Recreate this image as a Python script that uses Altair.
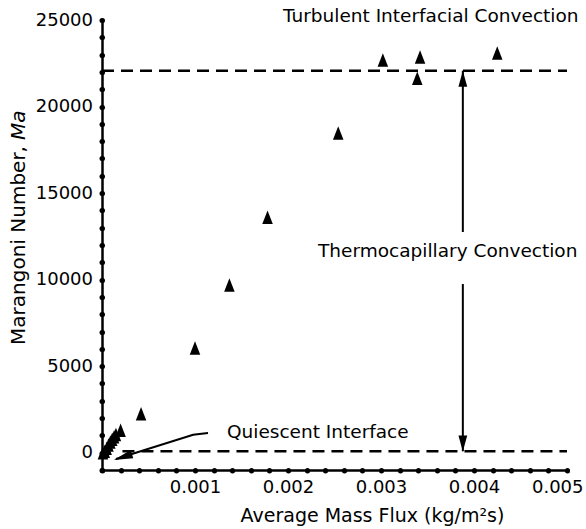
import altair as alt
import pandas as pd

# ---- data ----
flux = [0.00001, 0.00003, 0.00005, 0.00007, 0.00009, 0.00011, 0.00013, 0.00015,
        0.00020, 0.00042,
        0.00100, 0.00137, 0.00178, 0.00254, 0.00302, 0.00339, 0.00342, 0.00425]
marangoni = [0, 80, 250, 450, 620, 780, 920, 1050,
             1300, 2250,
             6050, 9690, 13600, 18470, 22690, 21640, 22860, 23090]

# regime boundaries (dashed lines)
bound_x1 = [0.0, 0.00022]
bound_x2 = [0.005, 0.005]
bound_y = [22070, 80]

# double arrow between the two regime boundaries
arrow_x = 0.00388
arrow_seg_y1 = [22070, 9745]
arrow_seg_y2 = [12750, 80]
arrow_up_y = [21605]
arrow_down_y = [530]

# leader line for "Quiescent Interface"
leader_x = [0.00114, 0.00098, 0.00015]
leader_y = [1140, 1040, -365]
leader_head = (0.000225, -250)

# annotation texts
ann_text = ["Turbulent Interfacial Convection", "Thermocapillary Convection", "Quiescent Interface"]
ann_x = [0.001946, 0.002323, 0.001344]
ann_y = [25230, 11670, 1167]

x_ticks = [round(i * 0.0002, 4) for i in range(26)]
y_ticks = list(range(-1000, 25001, 1000))

FONT = "DejaVu Sans"

xs = alt.Scale(domain=[0, 0.005], nice=False, zero=False)
ys = alt.Scale(domain=[-1000, 25000], nice=False, zero=False)

xaxis = alt.Axis(
    values=x_ticks,
    labelExpr="datum.value > 0 && abs(datum.value*1000 - round(datum.value*1000)) < 1e-6 ? format(datum.value, '.3f') : ''",
    title="Average Mass Flux (kg/m\u00b2s)",
    titleX=270, titleY=36, titleAlign="center", titleBaseline="top",
    titleFont=FONT, titleFontSize=19, titleFontWeight="normal", titleColor="black",
    labelFont=FONT, labelFontSize=18, labelColor="black",
    labelPadding=8, labelOverlap=False, labelFlush=True, labelFlushOffset=16,
)
yaxis = alt.Axis(
    values=y_ticks,
    labelExpr="datum.value >= 0 && datum.value % 5000 == 0 ? format(datum.value, 'd') : ''",
    title=None,
    labelFont=FONT, labelFontSize=18, labelColor="black",
    labelPadding=9, labelOverlap=False, labelFlush=False,
)


def X(field):
    return alt.X(field, type="quantitative", scale=xs, axis=xaxis)


def Y(field):
    return alt.Y(field, type="quantitative", scale=ys, axis=yaxis)


pts = pd.DataFrame({"x": flux, "y": marangoni})
bounds = pd.DataFrame({"x": bound_x1, "x2": bound_x2, "y": bound_y})
arrows = pd.DataFrame({"x": [arrow_x] * 2, "y": arrow_seg_y1, "y2": arrow_seg_y2})
up_head = pd.DataFrame({"x": [arrow_x], "y": arrow_up_y})
down_head = pd.DataFrame({"x": [arrow_x], "y": arrow_down_y})
leader = pd.DataFrame({"x": leader_x, "y": leader_y, "o": list(range(len(leader_x)))})
lhead = pd.DataFrame({"x": [leader_head[0]], "y": [leader_head[1]]})
ann = pd.DataFrame({"x": ann_x, "y": ann_y, "t": ann_text})
ytitle_a = pd.DataFrame({"x": [-0.000892], "y": [18065], "t": ["Marangoni Number,"]})
ytitle_b = pd.DataFrame({"x": [-0.000892], "y": [18065], "t": ["Ma"]})

TRI = "M0,-1L0.78,1L-0.78,1Z"

points = alt.Chart(pts).mark_point(shape=TRI, filled=True, size=182, color="black", opacity=1).encode(
    x=X("x"), y=Y("y"))

dashed = alt.Chart(bounds).mark_rule(color="black", strokeWidth=2.6, strokeDash=[12, 7]).encode(
    x=X("x"), x2="x2", y=Y("y"))

arrow_lines = alt.Chart(arrows).mark_rule(color="black", strokeWidth=2).encode(
    x=X("x"), y=Y("y"), y2="y2")

up = alt.Chart(up_head).mark_point(shape="M0,-1L0.55,1L-0.55,1Z", filled=True, size=256,
                                   color="black", opacity=1).encode(x=X("x"), y=Y("y"))
down = alt.Chart(down_head).mark_point(shape="M0,1L0.55,-1L-0.55,-1Z", filled=True, size=256,
                                       color="black", opacity=1).encode(x=X("x"), y=Y("y"))

leader_line = alt.Chart(leader).mark_line(color="black", strokeWidth=2).encode(
    x=X("x"), y=Y("y"), order="o:Q")
leader_arrow = alt.Chart(lhead).mark_point(shape="M0,-1L0.45,1L-0.45,1Z", filled=True, size=361,
                                           angle=252.5, color="black", opacity=1).encode(
    x=X("x"), y=Y("y"))

labels = alt.Chart(ann).mark_text(align="left", baseline="middle", font=FONT, fontSize=18.5,
                                  color="black").encode(x=X("x"), y=Y("y"), text="t:N")

yt_a = alt.Chart(ytitle_a).mark_text(align="right", baseline="middle", angle=270, dx=-6,
                                     font=FONT, fontSize=20, color="black").encode(
    x=X("x"), y=Y("y"), text="t:N")
yt_b = alt.Chart(ytitle_b).mark_text(align="left", baseline="middle", angle=270,
                                     font=FONT, fontSize=20, fontStyle="italic", color="black").encode(
    x=X("x"), y=Y("y"), text="t:N")

chart = alt.layer(
    dashed, arrow_lines, up, down, leader_line, leader_arrow, points, labels, yt_a, yt_b
).properties(
    width=465, height=450,
    autosize=alt.AutoSizeParams(type="none"),
    padding={"left": 102, "top": 20, "right": 19, "bottom": 59},
).configure(
    background="white"
).configure_view(
    stroke=None
).configure_axis(
    domainColor="black", domainWidth=2.5,
    tickColor="black", tickWidth=5, tickSize=0.5, tickCap="round",
    grid=False,
)

chart.save("out.html", embed_options={"renderer": "svg", "actions": False})
